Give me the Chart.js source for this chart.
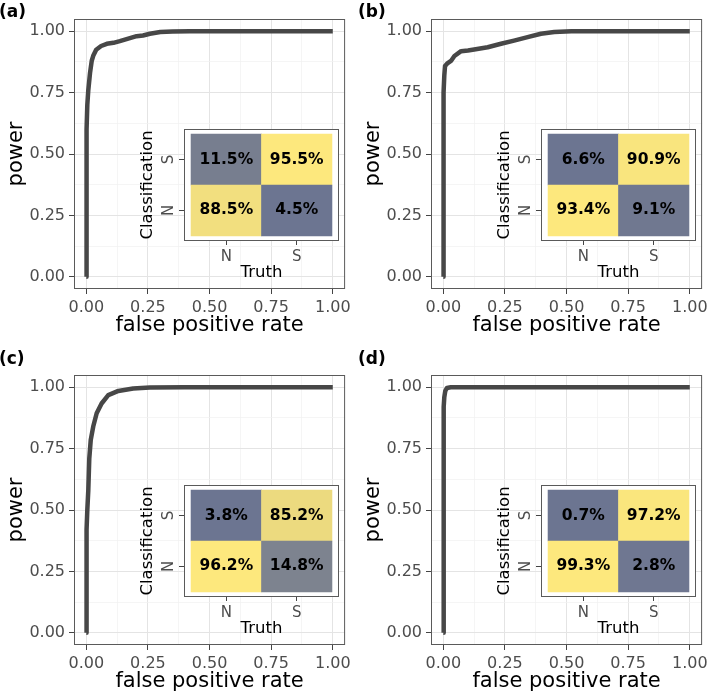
<!DOCTYPE html>
<html>
<head>
<meta charset="utf-8">
<script src="https://cdn.jsdelivr.net/npm/chart.js@4.4.1/dist/chart.umd.min.js"></script>
<style>
  body { margin: 0; background: #fff; }
  #wrap { position: relative; width: 710px; height: 695px; overflow: hidden; font-family: 'DejaVu Sans', sans-serif; }
  canvas { position: absolute; }
  .tag { position: absolute; font-weight: bold; font-size: 17px; line-height: 20px; color: #000; }
</style>
</head>
<body>
<div id="wrap"></div>
<script>
// ROC curves (false positive rate vs power)
const fprA = [0, 0.000, 0.002, 0.004, 0.008, 0.015, 0.022, 0.028, 0.040, 0.060, 0.083, 0.110, 0.136, 0.170, 0.204, 0.230, 0.258, 0.300, 0.350, 0.420, 0.600, 0.800, 1.0];
const powA = [0, 0.450, 0.600, 0.700, 0.760, 0.830, 0.880, 0.900, 0.925, 0.940, 0.949, 0.953, 0.960, 0.970, 0.980, 0.983, 0.990, 0.997, 0.999, 1.000, 1.000, 1.000, 1.0];

const fprB = [0, 0.000, 0.002, 0.004, 0.007, 0.015, 0.031, 0.045, 0.072, 0.100, 0.125, 0.180, 0.234, 0.287, 0.342, 0.396, 0.450, 0.520, 0.700, 1.0];
const powB = [0, 0.550, 0.750, 0.820, 0.859, 0.868, 0.879, 0.899, 0.919, 0.922, 0.926, 0.935, 0.949, 0.962, 0.976, 0.990, 0.997, 1.000, 1.000, 1.0];

const fprC = [0, 0.001, 0.004, 0.008, 0.012, 0.018, 0.028, 0.042, 0.062, 0.089, 0.130, 0.190, 0.258, 0.400, 0.600, 1.0];
const powC = [0, 0.420, 0.500, 0.580, 0.710, 0.786, 0.840, 0.894, 0.934, 0.968, 0.985, 0.995, 0.999, 1.000, 1.000, 1.0];

const fprD = [0, 0.001, 0.002, 0.004, 0.008, 0.015, 0.030, 0.500, 1.0];
const powD = [0, 0.800, 0.920, 0.960, 0.985, 0.997, 1.000, 1.000, 1.0];

// confusion matrices, % per truth column (N, S); one array per classification row
const truthLabels = ['N', 'S'];
const classLabels = ['N', 'S'];
const cmA_N = [88.5, 4.5];  const cmA_S = [11.5, 95.5];
const cmB_N = [93.4, 9.1];  const cmB_S = [6.6, 90.9];
const cmC_N = [96.2, 14.8]; const cmC_S = [3.8, 85.2];
const cmD_N = [99.3, 2.8];  const cmD_S = [0.7, 97.2];

const majorTicks = [0, 0.25, 0.5, 0.75, 1];
const panelTags = ['(a)', '(b)', '(c)', '(d)'];

Chart.defaults.font.family = "'DejaVu Sans', sans-serif";

const minorTicks = majorTicks.slice(1).map((v, i) => (v + majorTicks[i]) / 2);
const allTicks = majorTicks.concat(minorTicks).sort((a, b) => a - b);
const isMajor = v => majorTicks.includes(v);

const lowCol = [108, 117, 145];
const highCol = [253, 232, 125];
function cellColour(v, lo, hi) {
  const t = (v - lo) / (hi - lo);
  const c = lowCol.map((l, k) => Math.round(l + (highCol[k] - l) * t));
  return 'rgb(' + c.join(',') + ')';
}

// white panel + grey frame around chartArea
const panelBox = {
  id: 'panelBox',
  beforeDraw(chart, args, opts) {
    const a = chart.chartArea;
    if (opts.fill) {
      chart.ctx.fillStyle = opts.fill;
      chart.ctx.fillRect(a.left, a.top, a.right - a.left, a.bottom - a.top);
    }
  },
  afterDraw(chart, args, opts) {
    const a = chart.chartArea, ctx = chart.ctx;
    ctx.save();
    ctx.strokeStyle = opts.stroke || '#555';
    ctx.lineWidth = 1;
    ctx.strokeRect(a.left + 0.5, a.top + 0.5, a.right - a.left - 1, a.bottom - a.top - 1);
    ctx.restore();
  }
};

const cellText = {
  id: 'cellText',
  afterDatasetsDraw(chart) {
    const ctx = chart.ctx;
    ctx.save();
    ctx.font = "bold 15.5px 'DejaVu Sans'";
    ctx.fillStyle = '#000';
    ctx.textAlign = 'center';
    ctx.textBaseline = 'middle';
    chart.data.datasets.forEach((ds, i) => {
      chart.getDatasetMeta(i).data.forEach((bar, j) => {
        ctx.fillText(ds.pct[j].toFixed(1) + '%', bar.x, (bar.y + bar.base) / 2);
      });
    });
    ctx.restore();
  }
};

const wrap = document.getElementById('wrap');
function addCanvas(left, top, w, h) {
  const c = document.createElement('canvas');
  c.width = w; c.height = h;
  c.style.left = left + 'px'; c.style.top = top + 'px';
  wrap.appendChild(c);
  return c;
}

function rocAxis(titleText, isX) {
  return {
    type: 'linear', min: -0.05, max: 1.05,
    afterBuildTicks: s => { s.ticks = allTicks.map(v => ({ value: v })); },
    afterFit: s => { if (isX) s.height = 50; else s.width = 74; },
    border: { display: false },
    grid: {
      color: c => isMajor(c.tick.value) ? '#e4e4e4' : '#f1f1f1',
      lineWidth: c => isMajor(c.tick.value) ? 1 : 0.7,
      tickColor: c => isMajor(c.tick.value) ? '#444' : 'rgba(0,0,0,0)',
      tickWidth: 1,
      tickLength: 5
    },
    ticks: {
      autoSkip: false, maxRotation: 0, minRotation: 0, padding: 4,
      color: '#4d4d4d', font: { size: 16 },
      callback: v => isMajor(v) ? v.toFixed(2) : ''
    },
    title: {
      display: true, text: titleText, color: '#000', font: { size: 21 },
      padding: isX ? { top: 0, bottom: 1 } : { top: 4, bottom: 0 }
    }
  };
}

function makePanel(k, fpr, pow, rowN, rowS, left, top) {
  const cv = addCanvas(left, top, 355, 339);
  new Chart(cv, {
    type: 'line',
    data: {
      datasets: [{
        data: fpr.map((x, i) => ({ x: x, y: pow[i] })),
        borderColor: '#474747', borderWidth: 4.5,
        pointRadius: 0, tension: 0, fill: false,
        borderJoinStyle: 'round'
      }]
    },
    options: {
      responsive: false, animation: false,
      layout: { padding: { top: 19, right: 9, left: 0, bottom: 0 } },
      plugins: { legend: { display: false }, tooltip: { enabled: false }, panelBox: { stroke: '#5a5a5a' } },
      scales: { x: rocAxis('false positive rate', true), y: rocAxis('power', false) }
    },
    plugins: [panelBox]
  });

  // inset confusion matrix
  const all = rowN.concat(rowS);
  const lo = Math.min(...all), hi = Math.max(...all);
  const rows = [rowN, rowS];
  const ic = addCanvas(left + 134, top + 116, 210, 170);
  new Chart(ic, {
    type: 'bar',
    data: {
      datasets: rows.map((row, r) => ({
        label: classLabels[r],
        pct: row,
        data: row.map((v, j) => ({ x: j + 1, y: [r + 0.5, r + 1.5] })),
        backgroundColor: row.map(v => cellColour(v, lo, hi)),
        borderWidth: 0,
        grouped: false, barPercentage: 1, categoryPercentage: 1
      }))
    },
    options: {
      responsive: false, animation: false,
      layout: { padding: { top: 5, right: 5, left: 0, bottom: 0 } },
      plugins: { legend: { display: false }, tooltip: { enabled: false }, panelBox: { fill: '#fff', stroke: '#5a5a5a' } },
      scales: {
        x: {
          type: 'linear', min: 0.4, max: 2.6, offset: false,
          afterBuildTicks: s => { s.ticks = truthLabels.map((_, i) => ({ value: i + 1 })); },
          afterFit: s => { s.height = 45; },
          border: { display: false },
          grid: { display: true, drawOnChartArea: false, offset: false, tickLength: 4, tickColor: '#444', tickWidth: 1 },
          ticks: { autoSkip: false, maxRotation: 0, minRotation: 0, padding: 3, color: '#4d4d4d', font: { size: 15 },
                   callback: v => truthLabels[v - 1] || '' },
          title: { display: true, text: 'Truth', color: '#000', font: { size: 16.5 }, padding: { top: 0, bottom: 3 } }
        },
        y: {
          type: 'linear', min: 0.4, max: 2.6,
          afterBuildTicks: s => { s.ticks = classLabels.map((_, i) => ({ value: i + 1 })); },
          afterFit: s => { s.width = 50; },
          border: { display: false },
          grid: { display: true, drawOnChartArea: false, tickLength: 5, tickColor: '#444', tickWidth: 1 },
          ticks: { autoSkip: false, minRotation: 90, maxRotation: 90, crossAlign: 'center', padding: 4,
                   color: '#4d4d4d', font: { size: 15 }, callback: v => classLabels[v - 1] || '' },
          title: { display: true, text: 'Classification', color: '#000', font: { size: 16.5 }, padding: { top: 4, bottom: 0 } }
        }
      }
    },
    plugins: [panelBox, cellText]
  });

  const tag = document.createElement('div');
  tag.className = 'tag';
  tag.textContent = panelTags[k];
  tag.style.left = (left === 0 ? -1 : left + 1) + 'px';
  tag.style.top = (top === 0 ? 1 : top - 8) + 'px';
  wrap.appendChild(tag);
}

makePanel(0, fprA, powA, cmA_N, cmA_S, 0, 0);
makePanel(1, fprB, powB, cmB_N, cmB_S, 357, 0);
makePanel(2, fprC, powC, cmC_N, cmC_S, 0, 356);
makePanel(3, fprD, powD, cmD_N, cmD_S, 357, 356);
</script>
</body>
</html>
